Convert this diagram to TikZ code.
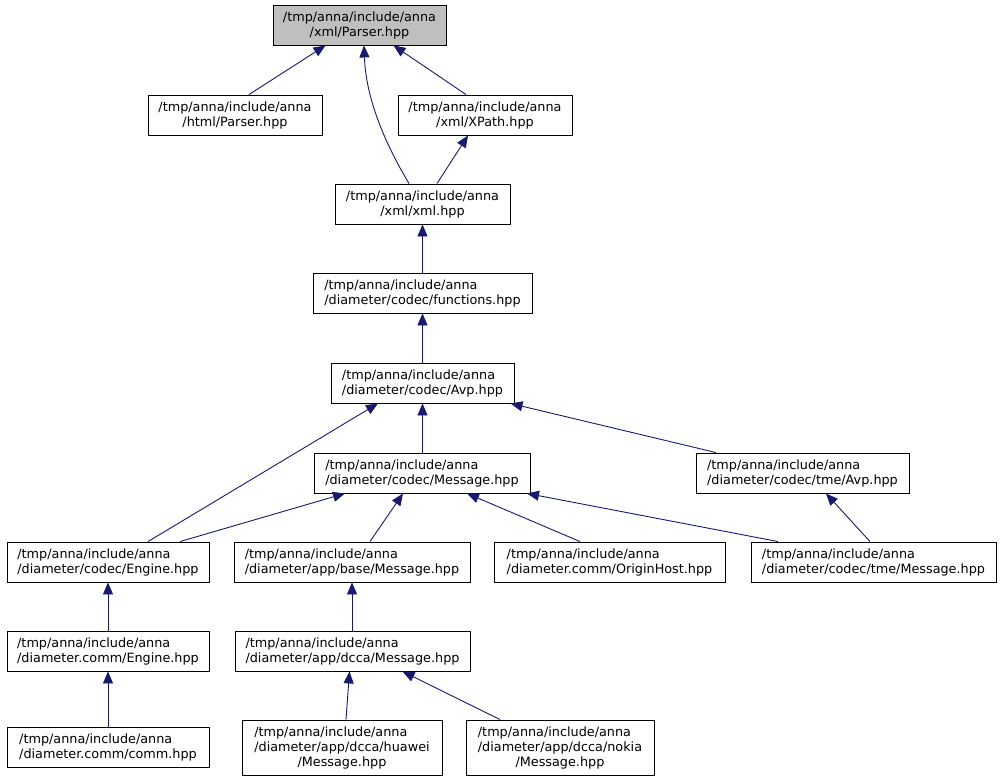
\documentclass[tikz,border=0pt]{standalone}
\usepackage{fontspec}
\setmainfont{DejaVu Sans}
\usetikzlibrary{arrows.meta}
\definecolor{edgecol}{HTML}{191970}
\definecolor{hlcol}{HTML}{BFBFBF}
\begin{document}
\begin{tikzpicture}[x=1bp,y=-1bp,
  box/.style={draw=black,line width=0.9bp,fill=white,minimum height=40bp,inner sep=0pt,
    font=\fontsize{12.8bp}{15bp}\selectfont},
  cbox/.style={box,align=center},
  lbox/.style={box,align=left},
  tbox/.style={box,align=center,minimum height=55bp},
  arr/.style={draw=edgecol,line width=0.9bp,-{Triangle[length=12bp,width=10bp]}}]
\useasboundingbox (0,0) rectangle (1002,781);

\node[cbox,fill=hlcol,minimum width=173bp] (top) at (359.5,25) {/tmp/anna/include/anna\\/xml/Parser.hpp};
\node[cbox,minimum width=174bp] (html) at (235,115) {/tmp/anna/include/anna\\/html/Parser.hpp};
\node[cbox,minimum width=174bp] (xpath) at (485,115) {/tmp/anna/include/anna\\/xml/XPath.hpp};
\node[cbox,minimum width=175bp] (xml) at (422.5,204) {/tmp/anna/include/anna\\/xml/xml.hpp};
\node[lbox,minimum width=219bp] (func) at (422.5,293) {/tmp/anna/include/anna\\/diameter/codec/functions.hpp};
\node[lbox,minimum width=183bp] (avp) at (422.5,383) {/tmp/anna/include/anna\\/diameter/codec/Avp.hpp};
\node[lbox,minimum width=216bp] (cm) at (422,473) {/tmp/anna/include/anna\\/diameter/codec/Message.hpp};
\node[lbox,minimum width=213bp] (tavp) at (802.5,473) {/tmp/anna/include/anna\\/diameter/codec/tme/Avp.hpp};
\node[lbox,minimum width=202bp] (ceng) at (108,562) {/tmp/anna/include/anna\\/diameter/codec/Engine.hpp};
\node[lbox,minimum width=236bp] (base) at (352,562) {/tmp/anna/include/anna\\/diameter/app/base/Message.hpp};
\node[lbox,minimum width=231bp] (orig) at (609.5,562) {/tmp/anna/include/anna\\/diameter.comm/OriginHost.hpp};
\node[lbox,minimum width=245bp] (tmsg) at (873.5,562) {/tmp/anna/include/anna\\/diameter/codec/tme/Message.hpp};
\node[lbox,minimum width=202bp] (meng) at (108,651) {/tmp/anna/include/anna\\/diameter.comm/Engine.hpp};
\node[lbox,minimum width=235bp] (dcca) at (352.5,651) {/tmp/anna/include/anna\\/diameter/app/dcca/Message.hpp};
\node[lbox,minimum width=202bp] (comm) at (108,747.5) {/tmp/anna/include/anna\\/diameter.comm/comm.hpp};
\node[tbox,minimum width=200bp] (hua) at (342,747.5) {\begin{tabular}[b]{@{}l@{}}/tmp/anna/include/anna\\/diameter/app/dcca/huawei\end{tabular}\\/Message.hpp};
\node[tbox,minimum width=188bp] (nok) at (560,747.5) {\begin{tabular}[b]{@{}l@{}}/tmp/anna/include/anna\\/diameter/app/dcca/nokia\end{tabular}\\/Message.hpp};

\draw[arr] ([xshift=14bp]html.north) -- ([xshift=-34bp]top.south);
\draw[arr] ([xshift=-19bp]xpath.north) -- ([xshift=34bp]top.south);
\draw[arr] ([xshift=-13.5bp]xml.north) .. controls (386,145) and (366,100) .. ([xshift=4.5bp]top.south);
\draw[arr] ([xshift=14.5bp]xml.north) -- ([xshift=-17bp]xpath.south);
\draw[arr] (func.north) -- (xml.south);
\draw[arr] (avp.north) -- (func.south);
\draw[arr] ([xshift=0.5bp]cm.north) -- (avp.south);
\draw[arr] ([xshift=40bp]ceng.north) -- ([xshift=-44.5bp]avp.south);
\draw[arr] ([xshift=-86.5bp]tavp.north) -- ([xshift=88bp]avp.south);
\draw[arr] ([xshift=72bp]ceng.north) -- ([xshift=-77bp]cm.south);
\draw[arr] ([xshift=18bp]base.north) -- ([xshift=-19bp]cm.south);
\draw[arr] ([xshift=-29.5bp]orig.north) -- ([xshift=45bp]cm.south);
\draw[arr] ([xshift=-95.5bp]tmsg.north) -- ([xshift=105bp]cm.south);
\draw[arr] ([xshift=-3.5bp]tmsg.north) -- ([xshift=23.5bp]tavp.south);
\draw[arr] (meng.north) -- (ceng.south);
\draw[arr] ([xshift=-0.5bp]dcca.north) -- (base.south);
\draw[arr] (comm.north) -- (meng.south);
\draw[arr] ([xshift=4bp]hua.north) -- ([xshift=-3bp]dcca.south);
\draw[arr] ([xshift=-60bp]nok.north) -- ([xshift=50bp]dcca.south);
\end{tikzpicture}
\end{document}
